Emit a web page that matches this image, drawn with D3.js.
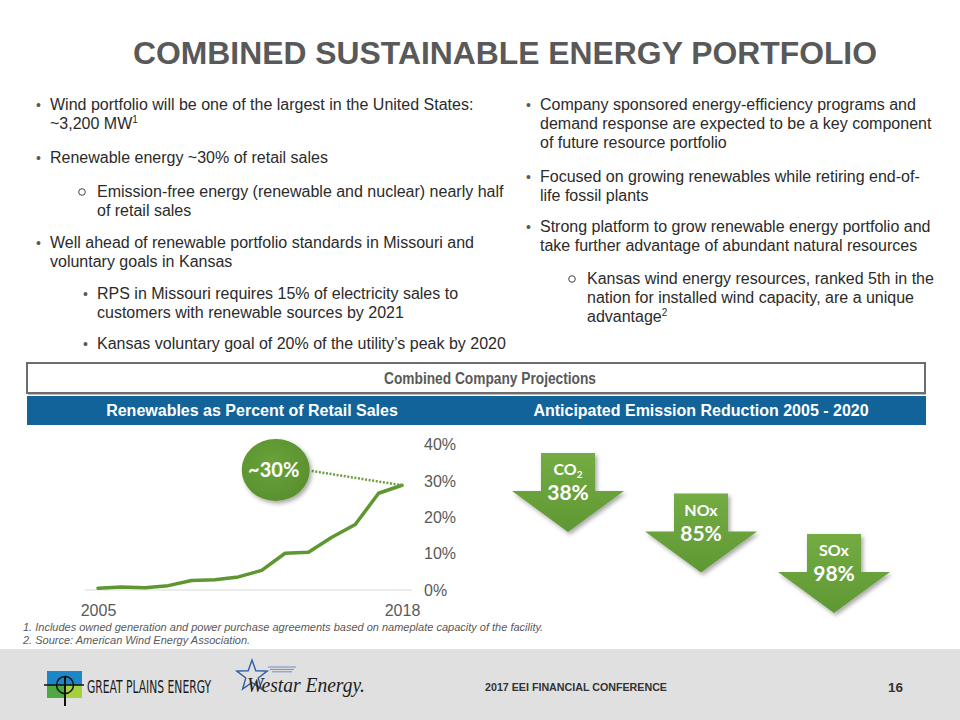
<!DOCTYPE html>
<html><head><meta charset="utf-8">
<script src="https://cdn.jsdelivr.net/npm/d3@7"></script>
<style>html,body{margin:0;padding:0;background:#fff;} svg{display:block;}</style>
</head><body><svg id="c" width="960" height="720"></svg>
<script>
// ---------- data ----------
const years = [2005,2006,2007,2008,2009,2010,2011,2012,2013,2014,2015,2016,2017,2018];
const renewablesPct = [0.5,0.8,0.6,1.2,2.6,2.8,3.6,5.4,10.1,10.4,14.5,18.0,26.6,28.8];
const yTicks = [0,10,20,30,40];
const xTickYears = [2005,2018];
const calloutLabel = "~30%";
const emissionNames = ["CO","NOx","SOx"];
const emissionSubs = ["2","",""];
const emissionReductions = [38,85,98];

const titleText = "COMBINED SUSTAINABLE ENERGY PORTFOLIO";
const leftLines = [
  {b:"dot", ind:0, y:110, t:"Wind portfolio will be one of the largest in the United States:"},
  {b:null, ind:0, y:129, t:"~3,200 MW", sup:"1"},
  {b:"dot", ind:0, y:163, t:"Renewable energy ~30% of retail sales"},
  {b:"o", ind:1, y:197, t:"Emission-free energy (renewable and nuclear) nearly half"},
  {b:null, ind:1, y:216, t:"of retail sales"},
  {b:"dot", ind:0, y:248, t:"Well ahead of renewable portfolio standards in Missouri and"},
  {b:null, ind:0, y:267, t:"voluntary goals in Kansas"},
  {b:"dot", ind:1, y:299, t:"RPS in Missouri requires 15% of electricity sales to"},
  {b:null, ind:1, y:318, t:"customers with renewable sources by 2021"},
  {b:"dot", ind:1, y:349, t:"Kansas voluntary goal of 20% of the utility\u2019s peak by 2020"}
];
const rightLines = [
  {b:"dot", ind:0, y:110, t:"Company sponsored energy-efficiency programs and"},
  {b:null, ind:0, y:129, t:"demand response are expected to be a key component"},
  {b:null, ind:0, y:148, t:"of future resource portfolio"},
  {b:"dot", ind:0, y:182, t:"Focused on growing renewables while retiring end-of-"},
  {b:null, ind:0, y:201, t:"life fossil plants"},
  {b:"dot", ind:0, y:232, t:"Strong platform to grow renewable energy portfolio and"},
  {b:null, ind:0, y:251, t:"take further advantage of abundant natural resources"},
  {b:"o", ind:1, y:284, t:"Kansas wind energy resources, ranked 5th in the"},
  {b:null, ind:1, y:303, t:"nation for installed wind capacity, are a unique"},
  {b:null, ind:1, y:322, t:"advantage", sup:"2"}
];
const footnotes = [
  "1. Includes owned generation and power purchase agreements based on nameplate capacity of the facility.",
  "2. Source: American Wind Energy Association."
];

// ---------- setup ----------
const svg = d3.select("#c");
const SANS = "'Liberation Sans', Arial, sans-serif";
const CAL = "Lato, 'Open Sans', sans-serif";
const GREEN = "#5e9732";
const defs = svg.append("defs");
const sh = defs.append("filter").attr("id","sh").attr("x","-30%").attr("y","-30%").attr("width","160%").attr("height","160%");
sh.append("feDropShadow").attr("dx",2).attr("dy",2.5).attr("stdDeviation",2).attr("flood-color","#000").attr("flood-opacity",0.35);
const gArrow = defs.append("linearGradient").attr("id","ga").attr("x1",0).attr("y1",0).attr("x2",0).attr("y2",1);
gArrow.append("stop").attr("offset","0%").attr("stop-color","#74ac44");
gArrow.append("stop").attr("offset","100%").attr("stop-color","#5f9733");
const gBub = defs.append("radialGradient").attr("id","gb").attr("cx","45%").attr("cy","40%").attr("r","65%");
gBub.append("stop").attr("offset","0%").attr("stop-color","#6aa33b");
gBub.append("stop").attr("offset","100%").attr("stop-color","#588f2c");

// ---------- title ----------
svg.append("text").attr("x",505).attr("y",64).attr("text-anchor","middle")
  .attr("font-family",SANS).attr("font-weight","bold").attr("font-size",32)
  .attr("fill","#595959").attr("textLength",744).attr("lengthAdjust","spacingAndGlyphs").text(titleText);

// ---------- bullets ----------
function drawColumn(lines, x0, subX){
  const g = svg.append("g").attr("font-family",SANS).attr("fill","#2b2b2b");
  lines.forEach(l=>{
    const tx = l.ind ? subX : x0;
    if(l.b==="dot"){
      g.append("text").attr("x",tx-14).attr("y",l.y).attr("font-size",14).attr("fill","#595959").text("\u2022");
    } else if(l.b==="o"){
      g.append("circle").attr("cx",tx-15).attr("cy",l.y-5).attr("r",3.3).attr("fill","none").attr("stroke","#444").attr("stroke-width",1);
    }
    const t = g.append("text").attr("x",tx).attr("y",l.y).attr("font-size",16).text(l.t);
    if(l.sup) t.append("tspan").attr("font-size",10).attr("dy",-6).text(l.sup);
  });
}
drawColumn(leftLines, 50, 97);
drawColumn(rightLines, 540, 587);

// ---------- headers ----------
svg.append("rect").attr("x",27).attr("y",363).attr("width",898).attr("height",30)
  .attr("fill","#fff").attr("stroke","#6d6d6d").attr("stroke-width",2);
svg.append("line").attr("x1",28).attr("x2",926).attr("y1",394.5).attr("y2",394.5).attr("stroke","#bdbdbd").attr("stroke-width",1);
svg.append("text").attr("x",490).attr("y",384).attr("text-anchor","middle")
  .attr("font-family",SANS).attr("font-weight","bold").attr("font-size",16).attr("fill","#595959")
  .attr("textLength",212).attr("lengthAdjust","spacingAndGlyphs").text("Combined Company Projections");
svg.append("rect").attr("x",27).attr("y",396).attr("width",899).attr("height",29).attr("fill","#11639a");
svg.append("text").attr("x",252).attr("y",416).attr("text-anchor","middle")
  .attr("font-family",SANS).attr("font-weight","bold").attr("font-size",16).attr("fill","#fff")
  .text("Renewables as Percent of Retail Sales");
svg.append("text").attr("x",701).attr("y",416).attr("text-anchor","middle")
  .attr("font-family",SANS).attr("font-weight","bold").attr("font-size",16).attr("fill","#fff")
  .text("Anticipated Emission Reduction 2005 - 2020");

// ---------- line chart ----------
const x = d3.scaleLinear().domain([2005,2018]).range([98,402]);
const y = d3.scaleLinear().domain([0,40]).range([590,444.5]);

svg.append("line").attr("x1",x(2005)-13).attr("x2",x(2018)+10).attr("y1",y(0)).attr("y2",y(0))
  .attr("stroke","#d9d9d9").attr("stroke-width",1);

const yAx = svg.append("g").attr("transform","translate(424,0)")
  .call(d3.axisRight(y).tickValues(yTicks).tickFormat(d=>d+"%").tickSize(0).tickPadding(0));
yAx.select(".domain").remove();
yAx.selectAll("text").attr("font-family",SANS).attr("font-size",16).attr("fill","#595959");

const xAx = svg.append("g").attr("transform","translate(0,604.6)")
  .call(d3.axisBottom(x).tickValues(xTickYears).tickFormat(d3.format("d")).tickSize(0).tickPadding(0));
xAx.select(".domain").remove();
xAx.selectAll("text").attr("font-family",SANS).attr("font-size",16).attr("fill","#595959");

const line = d3.line().x((d,i)=>x(years[i])).y(d=>y(d));
svg.append("path").datum(renewablesPct).attr("d",line).attr("fill","none")
  .attr("stroke",GREEN).attr("stroke-width",3.5).attr("stroke-linejoin","round").attr("stroke-linecap","round");

// callout
const bx = x(2012.6), byy = y(33.0), brx = 34, bry = 31;
const lastX = x(years[years.length-1]), lastY = y(renewablesPct[renewablesPct.length-1]);
svg.append("line").attr("x1",bx+brx+2).attr("y1",byy+1).attr("x2",lastX).attr("y2",lastY)
  .attr("stroke","#6aa03d").attr("stroke-width",2.5).attr("stroke-dasharray","2,1.6");
svg.append("ellipse").attr("cx",bx).attr("cy",byy).attr("rx",brx).attr("ry",bry)
  .attr("fill","url(#gb)").attr("filter","url(#sh)");
svg.append("text").attr("x",bx-2).attr("y",byy+7).attr("text-anchor","middle")
  .attr("font-family",CAL).attr("font-weight","bold").attr("font-size",20).attr("fill","#fff").text(calloutLabel);

// ---------- emission arrows ----------
const ax = d3.scalePoint().domain(emissionNames).range([568,834]);
const ay = d3.scalePoint().domain(emissionNames).range([453,534]);
const SW=27, SH=38, HW=56, HH=41;
const arrows = svg.append("g").selectAll("g").data(emissionNames).join("g");
arrows.append("path").attr("filter","url(#sh)").attr("fill","url(#ga)")
  .attr("d",d=>{const c=ax(d), t=ay(d);
    return `M${c-SW},${t}L${c+SW},${t}L${c+SW},${t+SH}L${c+HW},${t+SH}L${c},${t+SH+HH}L${c-HW},${t+SH}L${c-SW},${t+SH}Z`;});
arrows.each(function(d,i){
  const g = d3.select(this), c = ax(d), t = ay(d);
  const lt = g.append("text").attr("x",c).attr("y",t+22).attr("text-anchor","middle")
    .attr("font-family",CAL).attr("font-weight","bold").attr("font-size",16).attr("fill","#fff").text(d);
  if(emissionSubs[i]) lt.append("tspan").attr("font-size",10).attr("dy",3).text(emissionSubs[i]);
  g.append("text").attr("x",c).attr("y",t+47).attr("text-anchor","middle")
    .attr("font-family",CAL).attr("font-weight","bold").attr("font-size",21).attr("fill","#fff")
    .text(emissionReductions[i]+"%");
});

// ---------- footnotes ----------
svg.append("g").selectAll("text").data(footnotes).join("text")
  .attr("x",23).attr("y",(d,i)=>631+i*12.5)
  .attr("font-family",SANS).attr("font-style","italic").attr("font-size",11).attr("fill","#595959")
  .text(d=>d);

// ---------- footer ----------
svg.append("rect").attr("x",0).attr("y",649).attr("width",960).attr("height",71).attr("fill","#e0e0e0");
svg.append("text").attr("x",485).attr("y",691).attr("font-family",SANS).attr("font-weight","bold")
  .attr("font-size",11).attr("fill","#333").attr("textLength",182).attr("lengthAdjust","spacingAndGlyphs")
  .text("2017 EEI FINANCIAL CONFERENCE");
svg.append("text").attr("x",888).attr("y",692).attr("font-family",SANS).attr("font-weight","bold")
  .attr("font-size",13.5).attr("fill","#333").text("16");

// GPE logo
const gl = svg.append("g");
gl.append("rect").attr("x",47).attr("y",671).attr("width",35).attr("height",14).attr("fill","#1d86c6");
gl.append("rect").attr("x",47).attr("y",685).attr("width",18).attr("height",13).attr("fill","#4ea943");
gl.append("rect").attr("x",65).attr("y",685).attr("width",17).attr("height",13).attr("fill","#a6cf3e");
gl.append("circle").attr("cx",65).attr("cy",685).attr("r",8.5).attr("fill","none").attr("stroke","#111").attr("stroke-width",1.5);
gl.append("line").attr("x1",44).attr("x2",84).attr("y1",685).attr("y2",685).attr("stroke","#111").attr("stroke-width",1.5);
gl.append("line").attr("x1",65).attr("x2",65).attr("y1",676).attr("y2",706).attr("stroke","#111").attr("stroke-width",2);
gl.append("text").attr("transform","translate(87,693) scale(1,1.4)").attr("x",0).attr("y",0)
  .attr("font-family","'DejaVu Sans Condensed','DejaVu Sans',sans-serif")
  .attr("font-size",12.5).attr("fill","#1a1a1a").attr("textLength",124).attr("lengthAdjust","spacingAndGlyphs")
  .text("GREAT PLAINS ENERGY");

// Westar logo
const wl = svg.append("g");
const star = d3.range(10).map(i=>{const a=-Math.PI/2+i*Math.PI/5, r=i%2?6.5:16; return [252+r*Math.cos(a),676+r*Math.sin(a)];});
wl.append("path").attr("d","M"+star.map(p=>p.join(",")).join("L")+"Z").attr("fill","none").attr("stroke","#2d5ea8").attr("stroke-width",1.4);
[0,2,4].forEach(k=>wl.append("line").attr("x1",268+k).attr("x2",296-k).attr("y1",667+k*1.2).attr("y2",667+k*1.2).attr("stroke","#6f8fc7").attr("stroke-width",1));
wl.append("text").attr("x",247).attr("y",692).attr("font-family","'Liberation Serif','Times New Roman',serif")
  .attr("font-style","italic").attr("font-size",22).attr("fill","#222").attr("textLength",118).attr("lengthAdjust","spacingAndGlyphs")
  .text("Westar Energy.");
</script></body></html>
